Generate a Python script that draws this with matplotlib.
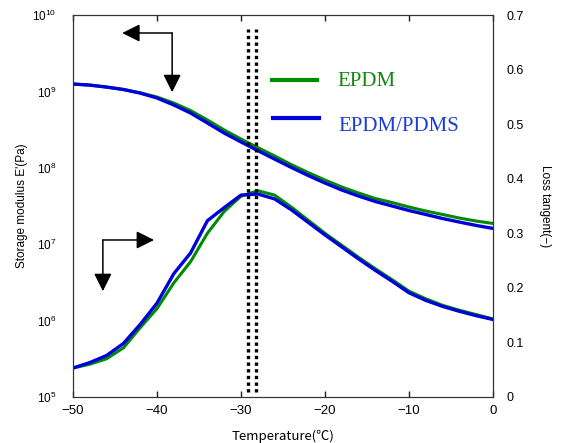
import matplotlib
matplotlib.use('Agg')
import matplotlib.pyplot as plt
import numpy as np

plt.rcParams['font.family'] = ['Liberation Sans', 'DejaVu Sans']
plt.rcParams['mathtext.fontset'] = 'custom'
plt.rcParams['mathtext.rm'] = 'Liberation Sans'
plt.rcParams['mathtext.it'] = 'Liberation Sans:italic'

# temperature (deg C)
temp = [-50, -48, -46, -44, -42, -40, -38, -36, -34, -32, -30, -28, -26,
        -24, -22, -20, -18, -16, -14, -12, -10, -8, -6, -4, -2, 0]

# storage modulus E' (Pa)
e_epdm = [1.25e9, 1.21e9, 1.14e9, 1.06e9, 9.6e8, 8.45e8, 7.05e8, 5.62e8, 4.23e8,
          3.13e8, 2.38e8, 1.84e8, 1.43e8, 1.10e8, 8.67e7, 6.92e7, 5.61e7, 4.68e7,
          3.96e7, 3.51e7, 3.07e7, 2.72e7, 2.45e7, 2.20e7, 2.01e7, 1.87e7]
e_pdms = [1.25e9, 1.21e9, 1.14e9, 1.06e9, 9.5e8, 8.2e8, 6.64e8, 5.21e8, 3.86e8,
          2.85e8, 2.18e8, 1.68e8, 1.30e8, 1.01e8, 7.93e7, 6.32e7, 5.12e7, 4.27e7,
          3.62e7, 3.16e7, 2.76e7, 2.45e7, 2.17e7, 1.95e7, 1.76e7, 1.61e7]

# loss tangent (-)
tan_epdm = [0.053, 0.060, 0.070, 0.090, 0.127, 0.162, 0.209, 0.248, 0.300,
            0.340, 0.368, 0.378, 0.370, 0.348, 0.324, 0.300, 0.278, 0.256,
            0.235, 0.215, 0.194, 0.180, 0.168, 0.159, 0.151, 0.143]
tan_pdms = [0.053, 0.063, 0.076, 0.098, 0.133, 0.172, 0.226, 0.264, 0.323,
            0.347, 0.370, 0.372, 0.363, 0.343, 0.320, 0.297, 0.275, 0.253,
            0.232, 0.212, 0.191, 0.177, 0.166, 0.157, 0.149, 0.142]

tg_lines = [-29.2, -28.2]
xticks = [-50, -40, -30, -20, -10, 0]

green = '#008a00'
blue = '#0000dc'

fig = plt.figure(figsize=(5.62, 4.43), dpi=100)
ax = fig.add_axes([0.130, 0.104, 0.747, 0.862])
ax2 = ax.twinx()

ax.plot(temp, e_epdm, color=green, lw=2.2, solid_joinstyle='round')
ax.plot(temp, e_pdms, color=blue, lw=2.4, solid_joinstyle='round')
ax2.plot(temp, tan_epdm, color=green, lw=2.2, solid_joinstyle='round')
ax2.plot(temp, tan_pdms, color=blue, lw=2.4, solid_joinstyle='round')

for t in tg_lines:
    ax2.axvline(t, ymin=0.013, ymax=0.963, color='black', lw=2.4,
                linestyle=(0, (1, 1)), dash_capstyle='butt')

ax.set_yscale('log')
ax.set_xlim(-50, 0)
ax.set_ylim(1e5, 1e10)
ax.set_yticks([1e5, 1e6, 1e7, 1e8, 1e9, 1e10])
ax.minorticks_off()
ax.set_xticks(xticks)
ax.tick_params(axis='y', length=0, labelsize=8.5, pad=12)
ax.tick_params(axis='x', direction='in', top=True, bottom=True,
               length=4.5, width=1.0, color='#222222', labelsize=9.5, pad=6)

ax2.set_ylim(0, 0.7)
ax2.set_yticks(np.arange(0, 0.71, 0.1))
ax2.set_yticklabels(['0', '0.1', '0.2', '0.3', '0.4', '0.5', '0.6', '0.7'])
ax2.tick_params(axis='y', length=0, labelsize=9, pad=10)

for a in (ax, ax2):
    for s in a.spines.values():
        s.set_color('#333333')
        s.set_linewidth(0.8)

ax.set_xlabel('Temperature(℃)', fontsize=9.5,
              family=['Noto Sans CJK JP', 'DejaVu Sans'], labelpad=9)
ax.set_ylabel("Storage modulus E'(Pa)", fontsize=8.5, labelpad=3)
ax2.set_ylabel('Loss tangent(−)', fontsize=8.5, rotation=-90, labelpad=19)

# legend drawn by hand
ax.plot([0.474, 0.581], [0.830, 0.830], transform=ax.transAxes,
        color=green, lw=3.0)
ax.plot([0.476, 0.586], [0.730, 0.730], transform=ax.transAxes,
        color=blue, lw=3.0)
ax.text(0.629, 0.825, 'EPDM', transform=ax.transAxes, color='#118811',
        family='Liberation Serif', fontsize=15, va='center')
ax.text(0.633, 0.707, 'EPDM/PDMS', transform=ax.transAxes, color='#1a3cd8',
        family='Liberation Serif', fontsize=15, va='center')

# arrows pointing to the axis of each curve
arr = dict(arrowstyle='-|>,head_length=0.54,head_width=0.27',
           mutation_scale=20, color='black', lw=1.1, shrinkA=0, shrinkB=0)
ax.annotate('', xy=(0.117, 0.953), xytext=(0.236, 0.953),
            xycoords='axes fraction', arrowprops=arr)
ax.annotate('', xy=(0.236, 0.798), xytext=(0.236, 0.953),
            xycoords='axes fraction', arrowprops=arr)
ax.annotate('', xy=(0.193, 0.411), xytext=(0.071, 0.411),
            xycoords='axes fraction', arrowprops=arr)
ax.annotate('', xy=(0.071, 0.277), xytext=(0.071, 0.411),
            xycoords='axes fraction', arrowprops=arr)

plt.savefig('out.png', dpi=100)
